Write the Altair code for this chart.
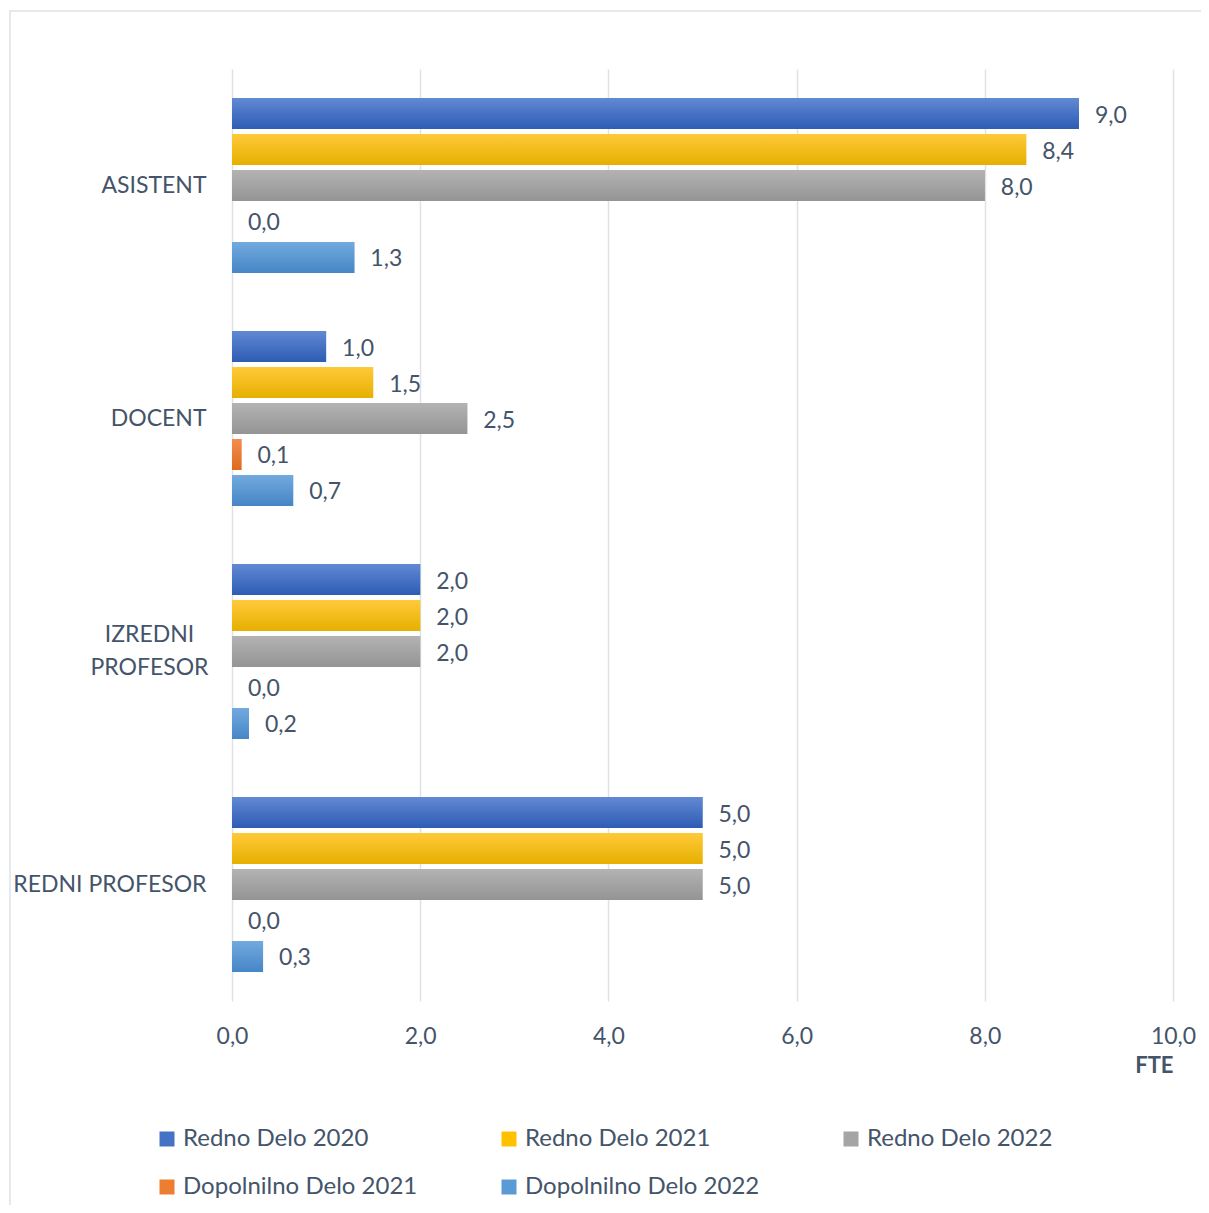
import altair as alt
import pandas as pd

categories = ["ASISTENT", "DOCENT", "IZREDNI PROFESOR", "REDNI PROFESOR"]
series = ["Redno Delo 2020", "Redno Delo 2021", "Redno Delo 2022",
          "Dopolnilno Delo 2021", "Dopolnilno Delo 2022"]
redno_2020 = [9.0, 1.0, 2.0, 5.0]
redno_2021 = [8.44, 1.5, 2.0, 5.0]
redno_2022 = [8.0, 2.5, 2.0, 5.0]
dopolnilno_2021 = [0.0, 0.1, 0.0, 0.0]
dopolnilno_2022 = [1.3, 0.65, 0.18, 0.33]
x_ticks = [0, 2, 4, 6, 8, 10]

colors = ["#4472C4", "#FFC000", "#A5A5A5", "#ED7D31", "#5B9BD5"]
grad_top = ["#6289D3", "#FFCA3A", "#B3B3B3", "#F38D4F", "#72AADE"]
grad_bot = ["#2D5CB4", "#E6AF00", "#949494", "#DD6A1E", "#4586C6"]

values_by_series = [redno_2020, redno_2021, redno_2022, dopolnilno_2021, dopolnilno_2022]
rows = []
for s, vals in zip(series, values_by_series):
    for c, v in zip(categories, vals):
        rows.append({"category": c, "series": s, "value": v})
df = pd.DataFrame(rows)

FONT = "Lato"
TXT = "#44546A"
FS = 23
TWO = "datum.label == 'IZREDNI PROFESOR'"

y_enc = alt.Y("category:N", sort=categories,
              scale=alt.Scale(paddingInner=0.2275, paddingOuter=0.11375),
              axis=alt.Axis(title=None, domain=False, ticks=False, tickSize=0,
                            labelPadding={"condition": {"test": TWO, "value": 83}, "value": 26},
                            labelAlign={"condition": {"test": TWO, "value": "center"}, "value": "right"},
                            labelOffset={"condition": {"test": TWO, "value": -16.5}, "value": 0},
                            labelFont=FONT, labelFontSize=FS,
                            labelColor=TXT, labelLimit=400, labelLineHeight=33,
                            labelExpr="datum.label == 'IZREDNI PROFESOR' ? ['IZREDNI', 'PROFESOR'] : datum.label"))
yoff_enc = alt.YOffset("series:N", sort=series,
                       scale=alt.Scale(domain=series, paddingInner=0.139, paddingOuter=0.0695))
x_enc = alt.X("value:Q",
              scale=alt.Scale(domain=[0, 10], nice=False),
              axis=alt.Axis(title="FTE", values=x_ticks, domain=False, ticks=False, tickSize=0,
                            grid=True, gridColor="#DDE1E8", gridWidth=1.5, labelFlush=False,
                            labelExpr="replace(format(datum.value, '.1f'), '.', ',')",
                            labelPadding=24, labelFont=FONT, labelFontSize=FS, labelColor=TXT,
                            titleAnchor="end", titleFont=FONT, titleFontSize=22,
                            titleFontWeight="bold", titleColor=TXT, titlePadding=7))

base = alt.Chart(df)

bars = base.mark_bar().encode(
    x=x_enc, y=y_enc, yOffset=yoff_enc,
    color=alt.Color("series:N", sort=series,
                    scale=alt.Scale(domain=series, range=colors),
                    legend=alt.Legend(title=None, orient="none", legendX=-77, legendY=1058,
                                      direction="horizontal", columns=3, gridAlign="all",
                                      symbolType="square", symbolSize=225, symbolStrokeWidth=0,
                                      labelFont=FONT, labelFontSize=24, labelColor=TXT,
                                      labelOffset=4, labelLimit=400,
                                      columnPadding=79, rowPadding=24)),
)

layers = [bars]
for s, t, b in zip(series, grad_top, grad_bot):
    g = {"gradient": "linear", "x1": 0, "y1": 0, "x2": 0, "y2": 1,
         "stops": [{"offset": 0, "color": t}, {"offset": 1, "color": b}]}
    layers.append(
        base.transform_filter(alt.datum.series == s).mark_bar(fill=g).encode(
            x=alt.X("value:Q"), y=alt.Y("category:N", sort=categories),
            yOffset=alt.YOffset("series:N", sort=series, scale=alt.Scale(domain=series)))
    )

labels = base.transform_calculate(
    lab="replace(format(datum.value, '.1f'), '.', ',')"
).mark_text(align="left", baseline="middle", dx=16, dy=2, font=FONT, fontSize=FS, color=TXT).encode(
    x=alt.X("value:Q"), y=alt.Y("category:N", sort=categories),
    yOffset=alt.YOffset("series:N", sort=series, scale=alt.Scale(domain=series)),
    text="lab:N")
layers.append(labels)

border = alt.Chart(alt.Data(values=[{"k": 1}])).mark_rect(
    fillOpacity=0, stroke="#DDE1E8", strokeWidth=1.5
).encode(x=alt.value(-222), x2=alt.value(1200), y=alt.value(-58), y2=alt.value(1200))

chart = alt.layer(border, *layers).properties(
    width=941, height=932,
    autosize=alt.AutoSizeParams(type="none"),
    padding={"left": 224, "right": 28, "top": 61, "bottom": 204},
).configure_view(strokeWidth=0)

chart.save("out.html", embed_options={"renderer": "svg", "actions": False})
